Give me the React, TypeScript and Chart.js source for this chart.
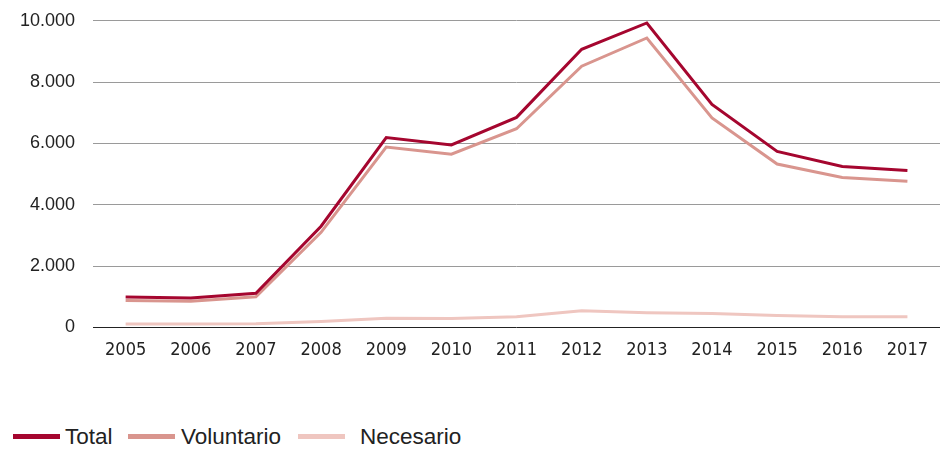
import React, { useEffect, useRef } from "react";
import { Chart, registerables } from "chart.js";

Chart.register(...registerables);

const years = ["2005", "2006", "2007", "2008", "2009", "2010", "2011", "2012", "2013", "2014", "2015", "2016", "2017"];
const total = [990, 960, 1110, 3300, 6190, 5950, 6850, 9070, 9930, 7270, 5740, 5250, 5120];
const voluntario = [880, 850, 1000, 3100, 5880, 5650, 6480, 8520, 9440, 6830, 5330, 4890, 4770];
const necesario = [110, 110, 120, 190, 300, 290, 350, 540, 480, 450, 390, 350, 350];
const seriesNames = ["Total", "Voluntario", "Necesario"];
const seriesColors = ["#a5062f", "#d9958e", "#efc6c0"];
const yTicks = [0, 2000, 4000, 6000, 8000, 10000];

const fmt = (v: number) => String(v).replace(/\B(?=(\d{3})+(?!\d))/g, ".");

export default function App() {
  const ref = useRef<HTMLCanvasElement | null>(null);
  useEffect(() => {
    document.body.style.margin = "0";
    const ctx = ref.current!;
    const values = [total, voluntario, necesario];
    const chart = new Chart(ctx, {
      type: "line",
      data: {
        labels: years,
        datasets: seriesNames.map((n, i) => ({
          label: n,
          data: values[i],
          borderColor: seriesColors[i],
          backgroundColor: seriesColors[i],
          borderWidth: 3,
          pointRadius: 0,
          tension: 0,
          fill: false,
        })),
      },
      options: {
        animation: false,
        responsive: false,
        devicePixelRatio: 1,
        layout: { padding: { left: 2, right: 1, top: 2, bottom: 10 } },
        plugins: { legend: { display: false }, tooltip: { enabled: false } },
        scales: {
          x: {
            offset: true,
            grid: { display: false, drawTicks: false },
            border: { display: false },
            ticks: {
              color: "#222",
              padding: 12,
              maxRotation: 0,
              autoSkip: false,
              font: { family: "'DejaVu Sans Condensed', 'DejaVu Sans', sans-serif", size: 18 },
            },
          },
          y: {
            min: 0,
            max: 10000,
            afterBuildTicks: (s: any) => {
              s.ticks = yTicks.map((v) => ({ value: v }));
            },
            grid: {
              drawTicks: false,
              color: (c: any) => (c.tick && c.tick.value === 0 ? "#222" : "#9a9a9a"),
              lineWidth: 1,
            },
            border: { display: false },
            ticks: {
              color: "#222",
              padding: 18,
              callback: (v: any) => fmt(Number(v)),
              font: { family: "'Liberation Sans', Arial, sans-serif", size: 18 },
            },
          },
        },
      },
    });
    return () => chart.destroy();
  }, []);

  const swatchLeft = [13, 128, 298];
  const textLeft = [65, 181, 360];
  return (
    <div style={{ position: "relative", width: 941, height: 449, background: "#fff", overflow: "hidden" }}>
      <canvas ref={ref} width={941} height={391} style={{ display: "block", position: "absolute", left: 0, top: -8 }} />
      {seriesNames.map((n, i) => (
        <React.Fragment key={n}>
          <span
            style={{
              position: "absolute",
              left: swatchLeft[i],
              top: 434,
              width: 47,
              height: 5,
              background: seriesColors[i],
            }}
          />
          <span
            style={{
              position: "absolute",
              left: textLeft[i],
              top: 424,
              fontFamily: "'Liberation Sans', Arial, sans-serif",
              fontSize: 22.5,
              lineHeight: "26px",
              color: "#222",
              whiteSpace: "nowrap",
            }}
          >
            {n}
          </span>
        </React.Fragment>
      ))}
    </div>
  );
}
